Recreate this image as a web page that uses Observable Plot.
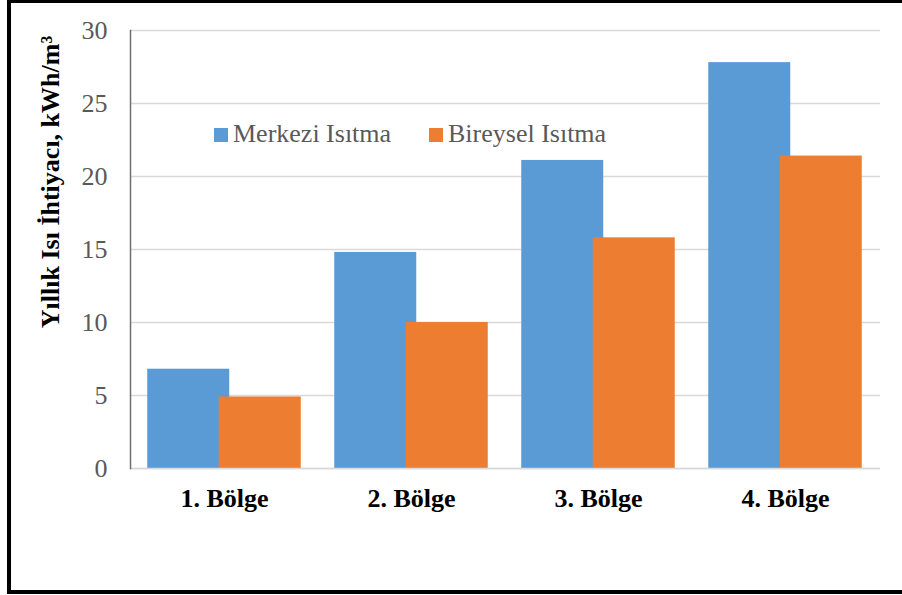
<!DOCTYPE html>
<html>
<head>
<meta charset="utf-8">
<script src="https://cdn.jsdelivr.net/npm/d3@7"></script>
<script src="https://cdn.jsdelivr.net/npm/@observablehq/plot@0.6"></script>
<style>
  html, body { margin: 0; padding: 0; background: #fff; }
  #wrap { position: relative; width: 902px; height: 595px; overflow: hidden; }
  #wrap svg { position: absolute; left: 0; top: 0; }
  #box {
    position: absolute; left: 7px; top: 0; width: 1000px; height: 594px;
    box-sizing: border-box; border-style: solid; border-color: #000;
    border-width: 3px 4px 4px 4px; pointer-events: none;
  }
  .legend { position: absolute; top: 121px; font: 26px "Liberation Serif", "Times New Roman", serif;
    color: #595959; line-height: 26px; white-space: nowrap; }
  .legend span.sw { display: inline-block; width: 14px; height: 14px; margin-right: 5px; vertical-align: 0px; }
  #ylab { position: absolute; left: 51px; top: 182px; width: 0; height: 0; }
  #ylab span { position: absolute; left: 0; top: 0; white-space: nowrap;
    font: bold 26px "Liberation Serif", "Times New Roman", serif; line-height: 26px; color: #000;
    transform: translate(-50%, -50%) rotate(-90deg); }
</style>
</head>
<body>
<div id="wrap"></div>
<script>
// Annual heat demand per region, kWh/m³
const regions = ["1. Bölge", "2. Bölge", "3. Bölge", "4. Bölge"];
const merkezi = [6.8, 14.8, 21.1, 27.8];
const bireysel = [4.9, 10.0, 15.8, 21.4];
const seriesNames = ["Merkezi Isıtma", "Bireysel Isıtma"];
const seriesColors = ["#5B9BD5", "#ED7D31"];
const yTicks = [0, 5, 10, 15, 20, 25, 30];
const yLabel = "Yıllık Isı İhtiyacı, kWh/m³";

const rowsM = regions.map((r, i) => ({region: r, value: merkezi[i]}));
const rowsB = regions.map((r, i) => ({region: r, value: bireysel[i]}));

const font = "'Liberation Serif', 'Times New Roman', serif";
const barOffset = 35.75; // the two bars of a group overlap slightly

const chart = Plot.plot({
  width: 902,
  height: 595,
  marginLeft: 130,
  marginRight: 22,
  marginTop: 30,
  marginBottom: 127,
  style: {fontFamily: font, background: "transparent", overflow: "visible"},
  x: {domain: regions, paddingInner: 0.559, paddingOuter: 0.2795},
  y: {domain: [0, 30]},
  marks: [
    Plot.gridY(yTicks, {stroke: "#d9d9d9", strokeOpacity: 1, strokeWidth: 1.5}),
    Plot.barY(rowsM, {x: "region", y: "value", fill: seriesColors[0], dx: -barOffset}),
    Plot.barY(rowsB, {x: "region", y: "value", fill: seriesColors[1], dx: barOffset}),
    Plot.ruleY([0], {stroke: "#d9d9d9", strokeWidth: 1.5}),
    Plot.frame({anchor: "left", stroke: "#6f6f6f", strokeWidth: 1.5}),
    Plot.axisY(yTicks, {tickSize: 0, tickPadding: 23, fontSize: 26, fill: "#595959", label: null}),
    Plot.axisX({tickSize: 0, tickPadding: 20, fontSize: 26, fontWeight: "bold", fill: "#000", label: null})
  ]
});

const wrap = document.getElementById("wrap");
wrap.appendChild(chart);

// rotated y-axis title
const yl = document.createElement("div");
yl.id = "ylab";
const ys = document.createElement("span");
ys.textContent = yLabel;
yl.appendChild(ys);
wrap.appendChild(yl);

// legend inside the plot area
const legendX = [214, 429];
seriesNames.forEach((name, i) => {
  const d = document.createElement("div");
  d.className = "legend";
  d.style.left = legendX[i] + "px";
  const sw = document.createElement("span");
  sw.className = "sw";
  sw.style.background = seriesColors[i];
  d.appendChild(sw);
  d.appendChild(document.createTextNode(name));
  wrap.appendChild(d);
});

const box = document.createElement("div");
box.id = "box";
wrap.appendChild(box);
</script>
</body>
</html>
